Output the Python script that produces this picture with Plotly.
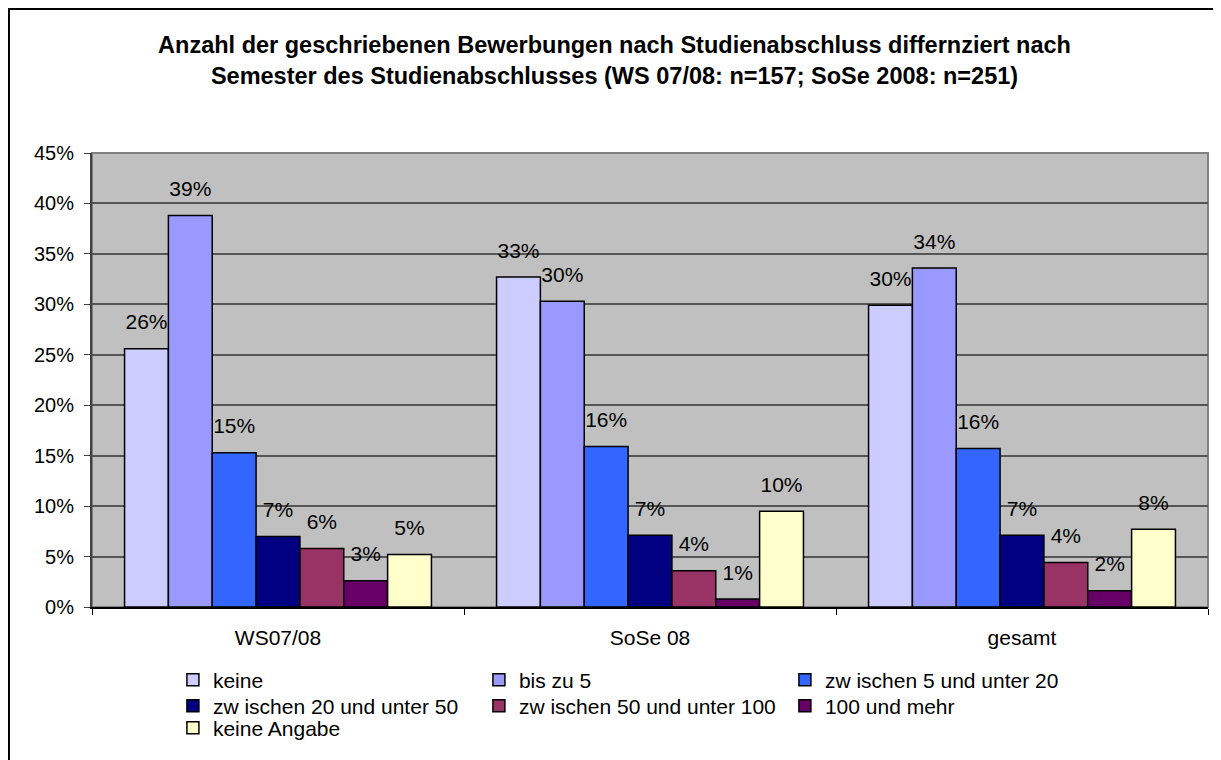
import plotly.graph_objects as go

FONT = "Liberation Sans, Arial, sans-serif"

categories = ["WS07/08", "SoSe 08", "gesamt"]
series_names = [
    "keine",
    "bis zu 5",
    "zw ischen 5 und unter 20",
    "zw ischen 20 und unter 50",
    "zw ischen 50 und unter 100",
    "100 und mehr",
    "keine Angabe",
]
series_colors = ["#CCCCFF", "#9999FF", "#3366FF", "#000080", "#993366", "#660066", "#FFFFCC"]
# which legend row each series sits in
legend_rows = ["legend", "legend", "legend", "legend2", "legend2", "legend2", "legend3"]

# percent values per series, in category order
keine = [25.6, 32.7, 29.9]
bis_5 = [38.8, 30.3, 33.6]
zw_5_20 = [15.3, 15.9, 15.7]
zw_20_50 = [7.0, 7.1, 7.1]
zw_50_100 = [5.8, 3.6, 4.4]
mehr_100 = [2.6, 0.8, 1.6]
keine_angabe = [5.2, 9.5, 7.7]

series_values = [keine, bis_5, zw_5_20, zw_20_50, zw_50_100, mehr_100, keine_angabe]

title_text = (
    "<b>Anzahl der geschriebenen Bewerbungen nach Studienabschluss differnziert nach<br>"
    "Semester des Studienabschlusses (WS 07/08: n=157; SoSe 2008: n=251)</b>"
)

fig = go.Figure()
for name, color, values, leg in zip(series_names, series_colors, series_values, legend_rows):
    fig.add_trace(
        go.Bar(
            name=name,
            x=categories,
            y=values,
            marker=dict(color=color, line=dict(color="black", width=1.5)),
            legend=leg,
            hoverinfo="skip",
        )
    )

# value labels, grouped like the bars and lifted by an invisible marker
for name, values in zip(series_names, series_values):
    fig.add_trace(
        go.Scatter(
            x=categories,
            y=values,
            mode="markers+text",
            text=[f"{round(v)}%" for v in values],
            textposition="top center",
            textfont=dict(family=FONT, size=21, color="black"),
            marker=dict(size=21, opacity=0),
            cliponaxis=False,
            showlegend=False,
            hoverinfo="skip",
        )
    )

legend_common = dict(
    orientation="h",
    xanchor="left",
    yanchor="middle",
    entrywidth=261,
    font=dict(family=FONT, size=21),
    bgcolor="rgba(0,0,0,0)",
    itemclick=False,
    itemdoubleclick=False,
)

fig.update_layout(
    width=1213,
    height=752,
    margin=dict(l=84, r=13, t=145, b=153, autoexpand=False),
    paper_bgcolor="white",
    plot_bgcolor="#C0C0C0",
    font=dict(family=FONT, size=20, color="black"),
    barmode="group",
    bargap=0.175,
    bargroupgap=0,
    scattermode="group",
    scattergap=0.175,
    title=dict(
        text=title_text,
        x=0.5,
        xanchor="center",
        xref="container",
        y=1 - 45 / 752,
        yanchor="middle",
        yref="container",
        font=dict(family=FONT, size=23.5, color="black"),
    ),
    legend=dict(legend_common, x=0.0725, y=-0.161),
    legend2=dict(legend_common, x=0.0725, y=-0.2181),
    legend3=dict(legend_common, x=0.0725, y=-0.2665),
    showlegend=True,
    shapes=[
        # plot area frame
        dict(type="rect", xref="paper", yref="paper", x0=0, y0=0, x1=1, y1=1,
             line=dict(color="#808080", width=2), layer="below"),
        # chart border, right/bottom edges run off the page
        dict(type="rect", xref="paper", yref="paper", x0=-0.0744, y0=-0.36, x1=1.03, y1=1.3172,
             line=dict(color="black", width=2)),
    ],
)

fig.update_xaxes(
    type="category",
    showline=True,
    linecolor="black",
    linewidth=2,
    ticks="outside",
    tickson="boundaries",
    ticklen=6,
    tickcolor="black",
    showgrid=False,
    ticklabelstandoff=11,
    tickfont=dict(family=FONT, size=21),
)
fig.update_yaxes(
    range=[0, 45],
    dtick=5,
    ticksuffix="%",
    showline=True,
    linecolor="#404040",
    linewidth=2,
    ticks="outside",
    ticklen=6,
    tickcolor="#404040",
    showgrid=True,
    gridcolor="#555555",
    gridwidth=1.5,
    zeroline=False,
    ticklabelstandoff=6,
    tickfont=dict(family=FONT, size=20),
)

fig.write_html("out.html")
